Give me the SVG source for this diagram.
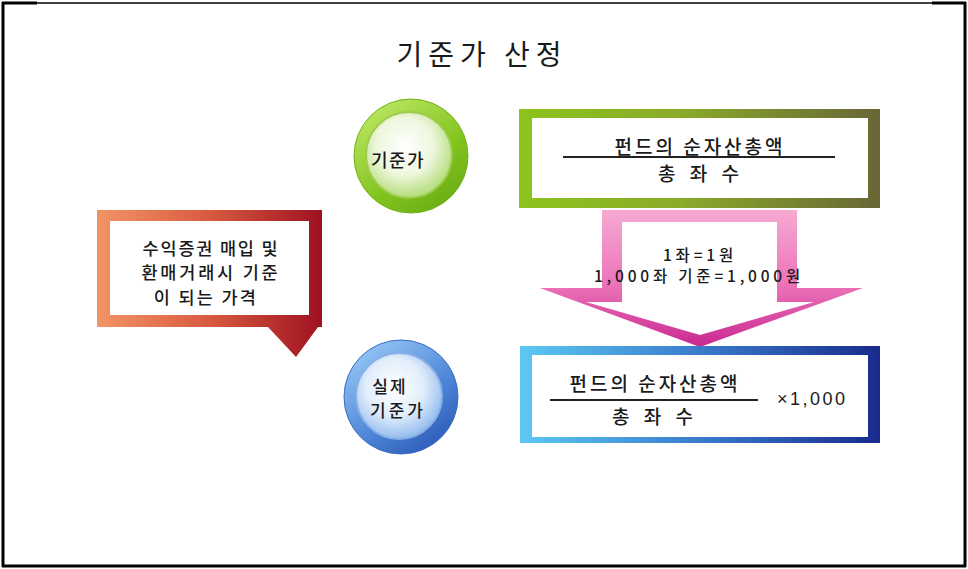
<svg xmlns="http://www.w3.org/2000/svg" width="968" height="569" viewBox="0 0 968 569">
<style>
.kr{font-family:"Noto Sans CJK KR","Noto Sans",sans-serif;fill:#1a1a1a;font-weight:500;}
.title{font-weight:400;}
.num{font-family:"Liberation Sans","Noto Sans CJK KR",sans-serif;fill:#1a1a1a;}
</style>
<defs>
<linearGradient id="gGreenBox" x1="0" y1="0" x2="1" y2="0">
<stop offset="0" stop-color="#8cc41c"/><stop offset="0.45" stop-color="#8aaa2a"/><stop offset="1" stop-color="#686636"/>
</linearGradient>
<linearGradient id="gBlueBox" x1="0" y1="0" x2="1" y2="0">
<stop offset="0" stop-color="#5cc8f2"/><stop offset="0.5" stop-color="#3a7ccc"/><stop offset="1" stop-color="#182a8c"/>
</linearGradient>
<linearGradient id="gCallout" x1="0" y1="0" x2="1" y2="0">
<stop offset="0" stop-color="#f29466"/><stop offset="0.5" stop-color="#d85a40"/><stop offset="1" stop-color="#9e1220"/>
</linearGradient>
<linearGradient id="gArrow" gradientUnits="userSpaceOnUse" x1="0" y1="210" x2="0" y2="347">
<stop offset="0" stop-color="#f7aad2"/><stop offset="0.55" stop-color="#ec72b8"/><stop offset="1" stop-color="#c82890"/>
</linearGradient>
<linearGradient id="gGreenRing" x1="0.2" y1="0.1" x2="0.8" y2="0.95">
<stop offset="0" stop-color="#b6e35c"/><stop offset="0.6" stop-color="#82c41e"/><stop offset="1" stop-color="#6aae14"/>
</linearGradient>
<radialGradient id="gGreenDisc" cx="0.45" cy="0.4" r="0.6">
<stop offset="0" stop-color="#ffffff"/><stop offset="0.55" stop-color="#eef7de"/><stop offset="1" stop-color="#b4dc7a"/>
</radialGradient>
<linearGradient id="gBlueRing" x1="0.2" y1="0.1" x2="0.8" y2="0.95">
<stop offset="0" stop-color="#8ec0f2"/><stop offset="0.6" stop-color="#4c84d6"/><stop offset="1" stop-color="#2e5cb8"/>
</linearGradient>
<radialGradient id="gBlueDisc" cx="0.45" cy="0.4" r="0.6">
<stop offset="0" stop-color="#ffffff"/><stop offset="0.55" stop-color="#e2eefb"/><stop offset="1" stop-color="#94bcee"/>
</radialGradient>
</defs>
<rect width="968" height="569" fill="#ffffff"/>
<g id="frame" fill="none" stroke="#000">
<path d="M3 2 V567" stroke-width="3"/>
<path d="M965 2 V567" stroke-width="3"/>
<path d="M2 566 H966" stroke-width="3"/>
<path d="M37 3 H932" stroke-width="1.5"/>
<path d="M2 3 H37 M932 3 H966" stroke-width="3"/>
</g>
<text class="kr title" x="482" y="65" font-size="28" letter-spacing="6" text-anchor="middle">기준가 산정</text>
<g id="connectors">
<path d="M602 210 H797 V288 H863 L700 347 L540 288 H602 Z" fill="url(#gArrow)"/>
<path d="M622 222 H777 V302 H814 L700 335 L586 302 H622 Z" fill="#ffffff"/>
</g>
<g id="arrow-label">
<text class="kr" x="700" y="261" font-size="15.5" letter-spacing="3.8" text-anchor="middle">1좌=1원</text>
<text class="kr" x="699" y="282" font-size="15.5" letter-spacing="3.8" text-anchor="middle">1,000좌 기준=1,000원</text>
</g>
<g id="node-giljunga">
<circle cx="411" cy="156" r="57" fill="url(#gGreenRing)" stroke="#74b21a" stroke-width="1"/>
<circle cx="409" cy="155" r="43" fill="url(#gGreenDisc)" stroke="#9ccc4a" stroke-width="2"/>
<text class="kr" x="398" y="167" font-size="18" letter-spacing="1.5" text-anchor="middle">기준가</text>
</g>
<g id="node-formula">
<rect x="519" y="109" width="361" height="99" fill="url(#gGreenBox)"/>
<rect x="532" y="118" width="336" height="80" fill="#ffffff"/>
<text class="kr" x="700" y="154" font-size="19" letter-spacing="3" text-anchor="middle">펀드의 순자산총액</text>
<line x1="563" y1="157" x2="835" y2="157" stroke="#222" stroke-width="2"/>
<text class="kr" x="701" y="181" font-size="19" letter-spacing="5" text-anchor="middle">총 좌 수</text>
</g>
<g id="node-callout">
<path d="M97 210 H322 V327 H318 L296 357 L268 327 H97 Z" fill="url(#gCallout)"/>
<rect x="110" y="221" width="199" height="94" fill="#ffffff"/>
<text class="kr" x="211" y="255" font-size="17.5" letter-spacing="1.8" text-anchor="middle">수익증권 매입 및</text>
<text class="kr" x="211" y="279" font-size="17.5" letter-spacing="2.8" text-anchor="middle">환매거래시 기준</text>
<text class="kr" x="206" y="304" font-size="17.5" letter-spacing="2.3" text-anchor="middle">이 되는 가격</text>
</g>
<g id="node-actual">
<circle cx="401" cy="397" r="57" fill="url(#gBlueRing)" stroke="#3a6cc4" stroke-width="1"/>
<circle cx="399" cy="396" r="43" fill="url(#gBlueDisc)" stroke="#86b0e8" stroke-width="2"/>
<text class="kr" x="390" y="393" font-size="17" letter-spacing="2" text-anchor="middle">실제</text>
<text class="kr" x="398" y="417" font-size="17" letter-spacing="3" text-anchor="middle">기준가</text>
</g>
<g id="node-formula-actual">
<rect x="520" y="346" width="360" height="97" fill="url(#gBlueBox)"/>
<rect x="532" y="355" width="336" height="82" fill="#ffffff"/>
<text class="kr" x="655" y="391" font-size="19" letter-spacing="3" text-anchor="middle">펀드의 순자산총액</text>
<line x1="550" y1="400" x2="758" y2="400" stroke="#222" stroke-width="2"/>
<text class="kr" x="655" y="424" font-size="19" letter-spacing="5" text-anchor="middle">총 좌 수</text>
<text class="num" x="777" y="405" font-size="18" letter-spacing="2.5">×1,000</text>
</g>
</svg>
